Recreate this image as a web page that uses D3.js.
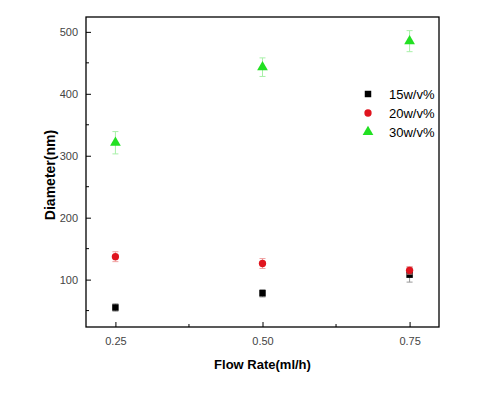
<!DOCTYPE html>
<html>
<head>
<meta charset="utf-8">
<script src="https://cdn.jsdelivr.net/npm/d3@7"></script>
<style>
  body { margin: 0; background: #fff; }
  text { font-family: "Liberation Sans", Arial, sans-serif; }
</style>
</head>
<body>
<svg width="501" height="397"></svg>
<script>
// flow rates (ml/h)
var flowRates = [0.25, 0.50, 0.75];
var seriesNames = ["15w/v%", "20w/v%", "30w/v%"];
// diameters (nm)
var d15 = [55, 78, 108];
var d20 = [137, 126, 115];
var d30 = [321, 443, 485];
// error bars
var e15 = [6, 6, 12];
var e20 = [8, 8, 6];
var e30 = [18, 15, 17];
var xTicks = [0.25, 0.50, 0.75];
var yTicks = [100, 200, 300, 400, 500];

var svg = d3.select("svg");
var plotL = 86, plotR = 439, plotT = 17, plotB = 327;

var x = d3.scaleLinear().domain([0.2, 0.8]).range([plotL, plotR]);
var y = d3.scaleLinear().domain([23.5, 524]).range([plotB, plotT]);

var series = [
  { name: seriesNames[0], vals: d15, err: e15, color: "#000", errColor: "#999", shape: d3.symbolSquare, size: 42 },
  { name: seriesNames[1], vals: d20, err: e20, color: "#e0141e", errColor: "#f0a0a0", shape: d3.symbolCircle, size: 42 },
  { name: seriesNames[2], vals: d30, err: e30, color: "#22e022", errColor: "#a8f0a8", shape: d3.symbolTriangle, size: 50 }
];

// frame
svg.append("rect")
    .attr("x", plotL).attr("y", plotT)
    .attr("width", plotR - plotL).attr("height", plotB - plotT)
    .attr("fill", "none").attr("stroke", "#000").attr("stroke-width", 1.3);

// axes, ticks inward
var xAxis = svg.append("g")
    .attr("transform", "translate(0," + plotB + ")")
    .call(d3.axisBottom(x).tickValues(xTicks).tickSize(-5).tickPadding(10).tickFormat(d3.format(".2f")));
var yAxis = svg.append("g")
    .attr("transform", "translate(" + plotL + ",0)")
    .call(d3.axisLeft(y).tickValues(yTicks).tickSize(-5).tickPadding(8));
[xAxis, yAxis].forEach(function(a) {
  a.select(".domain").remove();
  a.selectAll("text").attr("font-size", 11).attr("fill", "#444")
      .attr("font-family", "Liberation Sans, Arial, sans-serif");
});

// minor ticks
svg.append("g").selectAll("line")
    .data([0.375, 0.625])
    .enter().append("line")
    .attr("x1", function(d) { return x(d); }).attr("x2", function(d) { return x(d); })
    .attr("y1", plotB).attr("y2", plotB - 3)
    .attr("stroke", "#000");
svg.append("g").selectAll("line")
    .data([50, 150, 250, 350, 450])
    .enter().append("line")
    .attr("x1", plotL).attr("x2", plotL + 3)
    .attr("y1", function(d) { return y(d); }).attr("y2", function(d) { return y(d); })
    .attr("stroke", "#000");

// error bars and points
series.forEach(function(s) {
  var g = svg.append("g");
  var pts = flowRates.map(function(f, i) { return { x: f, v: s.vals[i], e: s.err[i] }; });
  var eb = g.selectAll(".eb").data(pts).enter().append("g")
      .attr("stroke", s.errColor).attr("stroke-width", 1);
  eb.append("line")
      .attr("x1", function(d) { return x(d.x); }).attr("x2", function(d) { return x(d.x); })
      .attr("y1", function(d) { return y(d.v - d.e); }).attr("y2", function(d) { return y(d.v + d.e); });
  [-1, 1].forEach(function(sg) {
    eb.append("line")
        .attr("x1", function(d) { return x(d.x) - 3; }).attr("x2", function(d) { return x(d.x) + 3; })
        .attr("y1", function(d) { return y(d.v + sg * d.e); }).attr("y2", function(d) { return y(d.v + sg * d.e); });
  });
  g.selectAll(".pt").data(pts).enter().append("path")
      .attr("d", d3.symbol().type(s.shape).size(s.size))
      .attr("transform", function(d) { return "translate(" + x(d.x) + "," + y(d.v) + ")"; })
      .attr("fill", s.color);
});

// legend
var legend = svg.append("g").selectAll("g")
    .data(series)
    .enter().append("g")
    .attr("transform", function(d, i) { return "translate(368," + (94 + i * 19) + ")"; });
legend.append("path")
    .attr("d", function(d) { return d3.symbol().type(d.shape).size(d.size)(); })
    .attr("fill", function(d) { return d.color; });
legend.append("text")
    .attr("x", 21).attr("dy", "0.36em")
    .attr("font-size", 13)
    .text(function(d) { return d.name; });

// axis titles
svg.append("text")
    .attr("x", (plotL + plotR) / 2).attr("y", 369)
    .attr("text-anchor", "middle")
    .attr("font-size", 13).attr("font-weight", "bold")
    .text("Flow Rate(ml/h)");
svg.append("text")
    .attr("transform", "translate(55,175) rotate(-90)")
    .attr("text-anchor", "middle")
    .attr("font-size", 14).attr("font-weight", "bold")
    .text("Diameter(nm)");
</script>
</body>
</html>
